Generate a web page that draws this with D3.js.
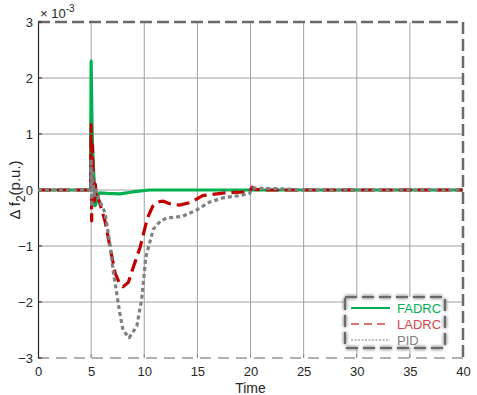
<!DOCTYPE html>
<html><head><meta charset="utf-8">
<script src="https://cdn.jsdelivr.net/npm/d3@7"></script>
<style>body{margin:0;background:#fff;}svg{display:block;font-family:Arial,"Liberation Sans",sans-serif;}</style>
</head><body>
<svg id="c" width="477" height="395"></svg>
<script>
const xTicks = [0,5,10,15,20,25,30,35,40];
const yTicks = [-3,-2,-1,0,1,2,3];
const seriesNames = ["FADRC","LADRC","PID"];
const seriesColors = ["#00b050","#c00000","#808080"];
const legendTextColors = ["#00b050","#d04848","#808080"];

const tFADRC = [0,4.95,5.0,5.05,5.1,5.2,5.3,5.38,5.45,5.55,5.8,6.5,7.7,8.9,10.5,20,40];
const vFADRC = [0,0,2.3,1.6,1.0,0.45,0.1,-0.28,-0.25,-0.12,-0.05,-0.06,-0.07,-0.035,0,0,0];

const tLADRC = [0,4.95,5.0,5.05,5.12,5.2,5.3,5.4,5.5,5.6,6.3,7.25,7.7,8.0,8.5,9.0,9.6,10.3,10.8,11.3,11.8,12.4,13.3,14.4,15.5,17.4,19.0,19.9,20.15,20.5,22,40];
const vLADRC = [0,0,1.17,-0.55,0.8,0.3,-0.2,0.1,-0.15,-0.1,-0.55,-1.48,-1.68,-1.73,-1.65,-1.36,-1.03,-0.5,-0.29,-0.21,-0.2,-0.245,-0.27,-0.22,-0.1,-0.055,-0.04,-0.04,0.05,0.01,0,0];

const tPID = [0,4.95,5.0,5.05,5.1,5.2,5.3,5.4,5.5,5.7,6.3,6.8,7.1,7.4,7.7,8.0,8.57,9.3,9.75,10.15,10.85,11.5,12.1,13.6,14.9,16.1,17.4,19.0,19.9,20.2,21,23,25,40];
const vPID = [0,0,0.55,-0.3,0.35,0.1,-0.1,0.05,-0.05,-0.15,-0.4,-1.0,-1.48,-1.84,-2.2,-2.5,-2.64,-2.43,-1.96,-1.2,-0.7,-0.56,-0.5,-0.47,-0.36,-0.22,-0.14,-0.1,-0.06,0.035,0.03,0.02,0,0];

const svg = d3.select("#c");
const L=38, R=463, T=22, B=358;
const x = d3.scaleLinear().domain([0,40]).range([L,R]);
const y = d3.scaleLinear().domain([-3,3]).range([B,T]);

const defs = svg.append("defs");
const f = defs.append("filter").attr("id","blur").attr("x","-10%").attr("y","-10%").attr("width","120%").attr("height","120%");
f.append("feGaussianBlur").attr("stdDeviation",1.6);

// grid
const g = svg.append("g");
g.selectAll(".gx").data(xTicks.filter(d=>d>0&&d<40)).join("line")
  .attr("x1",d=>x(d)).attr("x2",d=>x(d)).attr("y1",T).attr("y2",B)
  .attr("stroke","#a0a0a0").attr("stroke-width",1);
g.selectAll(".gy").data(yTicks.filter(d=>d>-3&&d<3)).join("line")
  .attr("y1",d=>y(d)).attr("y2",d=>y(d)).attr("x1",L).attr("x2",R)
  .attr("stroke","#a0a0a0").attr("stroke-width",1);

// frame: top & right dashed with soft shadow
const frame = [[L,T,R,T],[R,T,R,B]];
frame.forEach(s=>{
  svg.append("line").attr("x1",s[0]).attr("y1",s[1]).attr("x2",s[2]).attr("y2",s[3])
    .attr("stroke","#9a9a9a").attr("stroke-width",5).attr("stroke-dasharray","12 5").attr("filter","url(#blur)");
  svg.append("line").attr("x1",s[0]).attr("y1",s[1]).attr("x2",s[2]).attr("y2",s[3])
    .attr("stroke","#6a6a6a").attr("stroke-width",2.5).attr("stroke-dasharray","12 5");
});
// bottom dashed
svg.append("line").attr("x1",L).attr("y1",B).attr("x2",R).attr("y2",B)
  .attr("stroke","#b0b0b0").attr("stroke-width",2).attr("stroke-dasharray","11 7");

// axes
const yAxis = d3.axisLeft(y).tickValues(yTicks).tickSize(0).tickPadding(5).tickFormat(d3.format("d"));
const ya = svg.append("g").attr("transform",`translate(${L},0)`).call(yAxis);
ya.select(".domain").attr("stroke","#262626").attr("stroke-width",1.2);
ya.selectAll("text").attr("font-size",13).attr("fill","#262626").attr("font-family","Arial,'Liberation Sans',sans-serif");
svg.selectAll(".yt").data(yTicks).join("line").attr("x1",L).attr("x2",L+4)
  .attr("y1",d=>y(d)).attr("y2",d=>y(d)).attr("stroke","#262626");

const xAxis = d3.axisBottom(x).tickValues(xTicks).tickSize(0).tickPadding(9).tickFormat(d3.format("d"));
const xa = svg.append("g").attr("transform",`translate(0,${B})`).call(xAxis);
xa.select(".domain").remove();
xa.selectAll("text").attr("font-size",13).attr("fill","#262626").attr("font-family","Arial,'Liberation Sans',sans-serif");
svg.selectAll(".xt").data(xTicks.filter(d=>d>0&&d<40)).join("line").attr("y1",B).attr("y2",B-4)
  .attr("x1",d=>x(d)).attr("x2",d=>x(d)).attr("stroke","#8a8a8a");

// exponent
const ex = svg.append("text").attr("x",40).attr("y",18).attr("font-size",13).attr("fill","#262626");
ex.append("tspan").text("\u00d7 10");
ex.append("tspan").attr("dy",-6).attr("font-size",10).text("-3");

// labels
svg.append("text").attr("x",x(20)).attr("y",393).attr("text-anchor","middle")
  .attr("font-size",14).attr("fill","#262626").text("Time");
const yl = svg.append("text").attr("transform",`translate(20,${y(0)}) rotate(-90)`)
  .attr("text-anchor","middle").attr("font-size",15).attr("fill","#262626");
yl.append("tspan").text("\u0394 f");
yl.append("tspan").attr("dy",5).attr("font-size",12).text("2");
yl.append("tspan").attr("dy",-5).text("(p.u.)");

// series
const line = d3.line().x(d=>x(d[0])).y(d=>y(d[1]));
const data = [
  {t:tFADRC,v:vFADRC,dash:null,w:3.2},
  {t:tLADRC,v:vLADRC,dash:"13 6",w:3.2},
  {t:tPID,v:vPID,dash:"4 3",w:3.2}
];
const clip = defs.append("clipPath").attr("id","pc");
clip.append("rect").attr("x",L).attr("y",T-3).attr("width",R-L).attr("height",B-T+6);
data.forEach((s,i)=>{
  const pts = s.t.map((t,j)=>[t,s.v[j]]);
  svg.append("path").attr("d",line(pts)).attr("fill","none")
    .attr("stroke",seriesColors[i]).attr("stroke-width",s.w)
    .attr("stroke-dasharray",s.dash).attr("stroke-linejoin","round")
    .attr("clip-path","url(#pc)");
});

// legend
const lx=345, ly=297, lw=100, lh=51;
svg.append("rect").attr("x",lx).attr("y",ly).attr("width",lw).attr("height",lh).attr("fill","#fff");
svg.append("rect").attr("x",lx).attr("y",ly).attr("width",lw).attr("height",lh).attr("fill","none")
  .attr("stroke","#999").attr("stroke-width",4).attr("stroke-dasharray","12 5").attr("filter","url(#blur)");
svg.append("rect").attr("x",lx).attr("y",ly).attr("width",lw).attr("height",lh).attr("fill","none")
  .attr("stroke","#6a6a6a").attr("stroke-width",2).attr("stroke-dasharray","12 5");
const legDash=[null,"8 5","2 1.5"];
const legW=[2,1.6,1.2];
seriesNames.forEach((n,i)=>{
  const yy = ly+11+i*16;
  svg.append("line").attr("x1",lx+6).attr("x2",lx+45).attr("y1",yy).attr("y2",yy)
    .attr("stroke",seriesColors[i]==="#c00000"?"#d04848":seriesColors[i]).attr("stroke-width",legW[i]).attr("stroke-dasharray",legDash[i]);
  svg.append("text").attr("x",lx+52).attr("y",yy+4.5).attr("font-size",13)
    .attr("fill",legendTextColors[i]).text(n);
});
</script>
</body></html>
